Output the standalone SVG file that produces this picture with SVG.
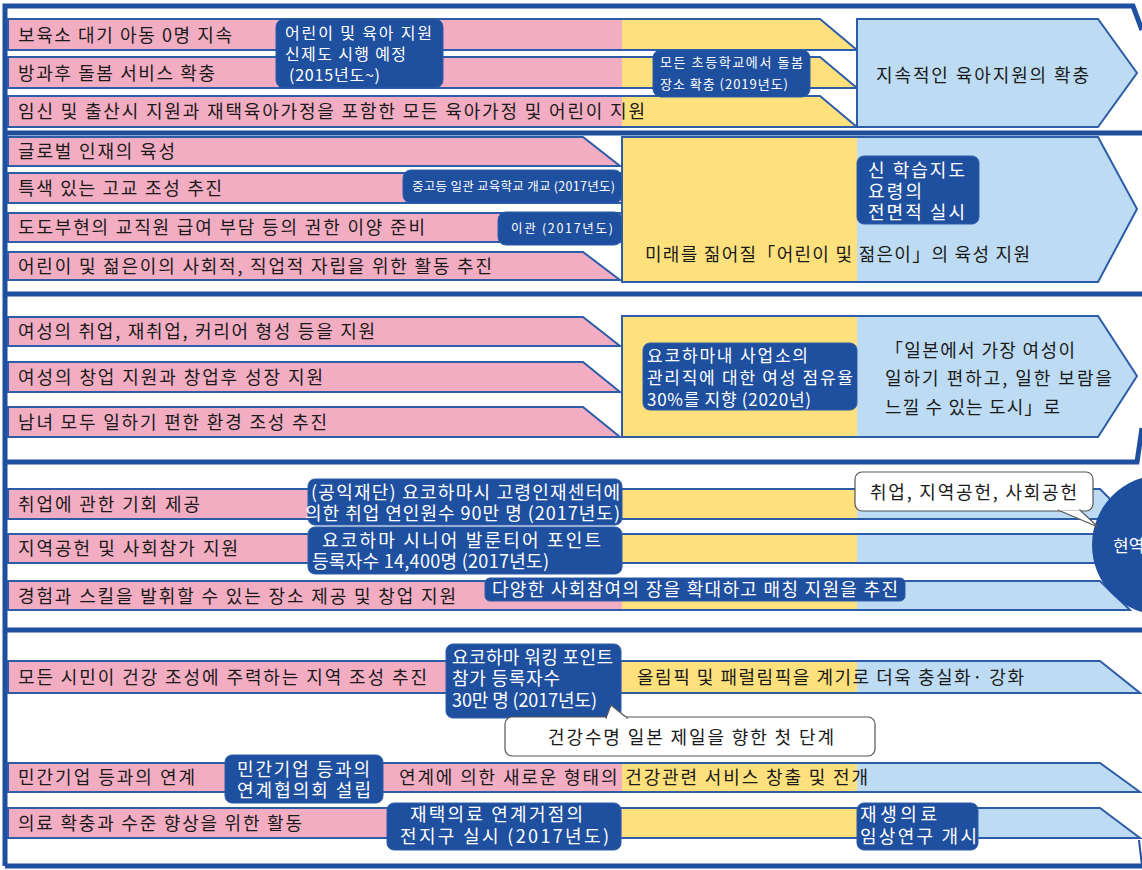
<svg xmlns="http://www.w3.org/2000/svg" width="1142" height="870" viewBox="0 0 1142 870">
<defs>
<linearGradient id="band" gradientUnits="userSpaceOnUse" x1="0" y1="0" x2="1142" y2="0">
<stop offset="0" stop-color="#f3adc3"/><stop offset="0.5447" stop-color="#f3adc3"/>
<stop offset="0.5447" stop-color="#fee17c"/><stop offset="0.7504" stop-color="#fee17c"/>
<stop offset="0.7504" stop-color="#bddcf3"/><stop offset="1" stop-color="#bddcf3"/>
</linearGradient>
<style>
text{font-family:"Noto Sans CJK KR","Noto Sans",sans-serif;fill:#1a1a1a;font-size:18px}
.w{fill:#fff}
.s17{font-size:17px}
.s16{font-size:16px}
.s13{font-size:13px}
.s12{font-size:12.5px}
.row{fill:url(#band);stroke:#2d5ca8;stroke-width:2}
.box{fill:#1f4f9f;stroke:#2d5ca8;stroke-width:1}
.frame{stroke:#1f4f9f;stroke-width:5;fill:none}
.call{fill:#fff;stroke:#555;stroke-width:1.2}
</style>
</defs>
<rect width="1142" height="870" fill="#fff"/>

<g id="frame" class="frame">
<path d="M5,866 L5,6 L1133,6 L1142,30"/>
<path d="M5,133 H1142"/>
<path d="M5,294 H1142"/>
<path d="M5,462 H1137 L1142,428"/>
<path d="M5,630 H1142"/>
<path d="M5,866 H1142"/>
<path d="M1139,840 L1142,866" stroke-width="2"/>
</g>

<g id="connectors"></g>

<!-- Section 1 -->
<g id="r1"><polygon class="row" points="8,19 820,19 857,50 8,50"/><text x="18" y="42" textLength="214" lengthAdjust="spacing">보육소 대기 아동 0명 지속</text></g>
<g id="r2"><polygon class="row" points="8,57 820,57 857,88 8,88"/><text x="18" y="80" textLength="197" lengthAdjust="spacing">방과후 돌봄 서비스 확충</text></g>
<g id="r3"><polygon class="row" points="8,96 820,96 857,127 8,127"/><text x="18" y="118" textLength="627" lengthAdjust="spacing">임신 및 출산시 지원과 재택육아가정을 포함한 모든 육아가정 및 어린이 지원</text></g>
<g id="goal1"><polygon class="row" points="857,19 1098,19 1137,73 1098,127 857,127"/><text x="876" y="82" textLength="213" lengthAdjust="spacing">지속적인 육아지원의 확충</text></g>
<g id="b1"><rect class="box" x="276" y="19" width="167" height="69" rx="8"/>
<text class="w s16" x="285" y="39" textLength="147" lengthAdjust="spacing">어린이 및 육아 지원</text>
<text class="w s16" x="285" y="60" textLength="121" lengthAdjust="spacing">신제도 시행 예정</text>
<text class="w s16" x="289" y="81" textLength="91" lengthAdjust="spacing">(2015년도~)</text></g>
<g id="b2"><rect class="box" x="653" y="50" width="157" height="47" rx="8"/>
<text class="w s13" x="660" y="67" textLength="143" lengthAdjust="spacing">모든 초등학교에서 돌봄</text>
<text class="w s13" x="660" y="89" textLength="128" lengthAdjust="spacing">장소 확충 (2019년도)</text></g>

<!-- Section 2 -->
<g id="r4"><polygon class="row" points="8,137 583,137 620,166 8,166"/><text x="18" y="158" textLength="157" lengthAdjust="spacing">글로벌 인재의 육성</text></g>
<g id="r5"><polygon class="row" points="8,173 622,173 622,203 8,203"/><text x="18" y="195" textLength="204" lengthAdjust="spacing">특색 있는 고교 조성 추진</text></g>
<g id="r6"><polygon class="row" points="8,213 622,213 622,242 8,242"/><text x="18" y="234" textLength="407" lengthAdjust="spacing">도도부현의 교직원 급여 부담 등의 권한 이양 준비</text></g>
<g id="r7"><polygon class="row" points="8,252 583,252 620,280 8,280"/><text x="18" y="273" textLength="474" lengthAdjust="spacing">어린이 및 젊은이의 사회적, 직업적 자립을 위한 활동 추진</text></g>
<g id="goal2"><polygon class="row" points="622,137 1098,137 1137,209 1098,282 622,282"/><text x="645" y="261" textLength="385" lengthAdjust="spacing">미래를 짊어질「어린이 및 젊은이」의 육성 지원</text></g>
<g id="b3"><rect class="box" x="403" y="170" width="219" height="33" rx="8"/><text class="w s12" x="412" y="191" textLength="203" lengthAdjust="spacing">중고등 일관 교육학교 개교 (2017년도)</text></g>
<g id="b4"><rect class="box" x="498" y="212" width="124" height="33" rx="8"/><text class="w s12" x="511" y="233" textLength="102" lengthAdjust="spacing">이관 (2017년도)</text></g>
<g id="b5"><rect class="box" x="857" y="156" width="122" height="68" rx="7"/>
<text class="w" x="868" y="177" textLength="97" lengthAdjust="spacing">신 학습지도</text>
<text class="w" x="868" y="198" textLength="54" lengthAdjust="spacing">요령의</text>
<text class="w" x="868" y="219" textLength="97" lengthAdjust="spacing">전면적 실시</text></g>

<!-- Section 3 -->
<g id="r8"><polygon class="row" points="8,317 583,317 620,346 8,346"/><text x="18" y="338" textLength="357" lengthAdjust="spacing">여성의 취업, 재취업, 커리어 형성 등을 지원</text></g>
<g id="r9"><polygon class="row" points="8,362 583,362 620,392 8,392"/><text x="18" y="384" textLength="305" lengthAdjust="spacing">여성의 창업 지원과 창업후 성장 지원</text></g>
<g id="r10"><polygon class="row" points="8,407 583,407 620,437 8,437"/><text x="18" y="429" textLength="309" lengthAdjust="spacing">남녀 모두 일하기 편한 환경 조성 추진</text></g>
<g id="goal3"><polygon class="row" points="622,316 1098,316 1137,376 1098,437 622,437"/>
<text x="885" y="357" textLength="190" lengthAdjust="spacing">「일본에서 가장 여성이</text>
<text x="885" y="385" textLength="227" lengthAdjust="spacing">일하기 편하고, 일한 보람을</text>
<text x="885" y="414" textLength="175" lengthAdjust="spacing">느낄 수 있는 도시」로</text></g>
<g id="b6"><rect class="box" x="643" y="343" width="214" height="67" rx="7"/>
<text class="w s17" x="647" y="362" textLength="161" lengthAdjust="spacing">요코하마내 사업소의</text>
<text class="w s17" x="647" y="384" textLength="206" lengthAdjust="spacing">관리직에 대한 여성 점유율</text>
<text class="w s17" x="647" y="406" textLength="164" lengthAdjust="spacing">30%를 지향 (2020년)</text></g>

<!-- Section 4 -->
<g id="r11"><polygon class="row" points="8,489 1100,489 1130,519 8,519"/><text x="18" y="511" textLength="182" lengthAdjust="spacing">취업에 관한 기회 제공</text></g>
<g id="r12"><polygon class="row" points="8,534 1100,534 1130,563 8,563"/><text x="18" y="555" textLength="220" lengthAdjust="spacing">지역공헌 및 사회참가 지원</text></g>
<g id="r13"><polygon class="row" points="8,581 1100,581 1130,610 8,610"/><text x="18" y="603" textLength="438" lengthAdjust="spacing">경험과 스킬을 발휘할 수 있는 장소 제공 및 창업 지원</text></g>
<g id="b7"><rect class="box" x="308" y="479" width="314" height="46" rx="7"/>
<text class="w" x="311" y="499" textLength="309" lengthAdjust="spacing">(공익재단) 요코하마시 고령인재센터에</text>
<text class="w" x="305" y="520" textLength="315" lengthAdjust="spacing">의한 취업 연인원수 90만 명 (2017년도)</text></g>
<g id="b8"><rect class="box" x="308" y="527" width="314" height="47" rx="7"/>
<text class="w" x="322" y="547" textLength="279" lengthAdjust="spacing">요코하마 시니어 발룬티어 포인트</text>
<text class="w" x="312" y="568" textLength="237" lengthAdjust="spacing">등록자수 14,400명 (2017년도)</text></g>
<g id="b9"><rect class="box" x="485" y="578" width="420" height="23" rx="5"/>
<text class="w" x="492" y="596" textLength="406" lengthAdjust="spacing">다양한 사회참여의 장을 확대하고 매칭 지원을 추진</text></g>
<g id="active"><circle cx="1162" cy="545" r="70" fill="#1f4f9f"/><text class="w s17" x="1113" y="552">현역</text></g>
<g id="c1"><rect class="call" x="855" y="472" width="238" height="39" rx="7"/>
<polygon points="1058,510 1098,527 1080,510" fill="#fff" stroke="#555" stroke-width="1.2"/>
<rect x="1059" y="508" width="20" height="2.4" fill="#fff"/>
<text x="870" y="499" textLength="207" lengthAdjust="spacing">취업, 지역공헌, 사회공헌</text></g>

<!-- Section 5 -->
<g id="r14"><polygon class="row" points="8,661 1100,661 1140,693 8,693"/><text x="18" y="684" textLength="409" lengthAdjust="spacing">모든 시민이 건강 조성에 주력하는 지역 조성 추진</text>
<text x="637" y="684" textLength="387" lengthAdjust="spacing">올림픽 및 패럴림픽을 계기로 더욱 충실화· 강화</text></g>
<g id="r15"><polygon class="row" points="8,763 1100,763 1140,792 8,792"/><text x="18" y="784" textLength="177" lengthAdjust="spacing">민간기업 등과의 연계</text>
<text x="399" y="784" textLength="469" lengthAdjust="spacing">연계에 의한 새로운 형태의 건강관련 서비스 창출 및 전개</text></g>
<g id="r16"><polygon class="row" points="8,808 1100,808 1140,838 8,838"/><text x="18" y="830" textLength="284" lengthAdjust="spacing">의료 확충과 수준 향상을 위한 활동</text></g>
<g id="b10"><rect class="box" x="446" y="644" width="175" height="74" rx="7"/>
<text class="w" x="452" y="664" textLength="161" lengthAdjust="spacing">요코하마 워킹 포인트</text>
<text class="w" x="452" y="685" textLength="108" lengthAdjust="spacing">참가 등록자수</text>
<text class="w" x="452" y="707" textLength="145" lengthAdjust="spacing">30만 명 (2017년도)</text></g>
<g id="c2"><rect class="call" x="505" y="717" width="370" height="39" rx="7"/>
<polygon points="606,718 611,705 627,718" fill="#fff" stroke="#555" stroke-width="1.2"/>
<rect x="607" y="717" width="19" height="2.4" fill="#fff"/>
<text x="548" y="744" textLength="286" lengthAdjust="spacing">건강수명 일본 제일을 향한 첫 단계</text></g>
<g id="b11"><rect class="box" x="225" y="755" width="158" height="48" rx="7"/>
<text class="w" x="237" y="776" textLength="133" lengthAdjust="spacing">민간기업 등과의</text>
<text class="w" x="237" y="797" textLength="134" lengthAdjust="spacing">연계협의회 설립</text></g>
<g id="b12"><rect class="box" x="387" y="803" width="234" height="47" rx="7"/>
<text class="w" x="410" y="821" textLength="173" lengthAdjust="spacing">재택의료 연계거점의</text>
<text class="w" x="400" y="843" textLength="209" lengthAdjust="spacing">전지구 실시 (2017년도)</text></g>
<g id="b13"><rect class="box" x="857" y="803" width="121" height="47" rx="7"/>
<text class="w" x="860" y="821" textLength="77" lengthAdjust="spacing">재생의료</text>
<text class="w" x="860" y="843" textLength="117" lengthAdjust="spacing">임상연구 개시</text></g>
</svg>
